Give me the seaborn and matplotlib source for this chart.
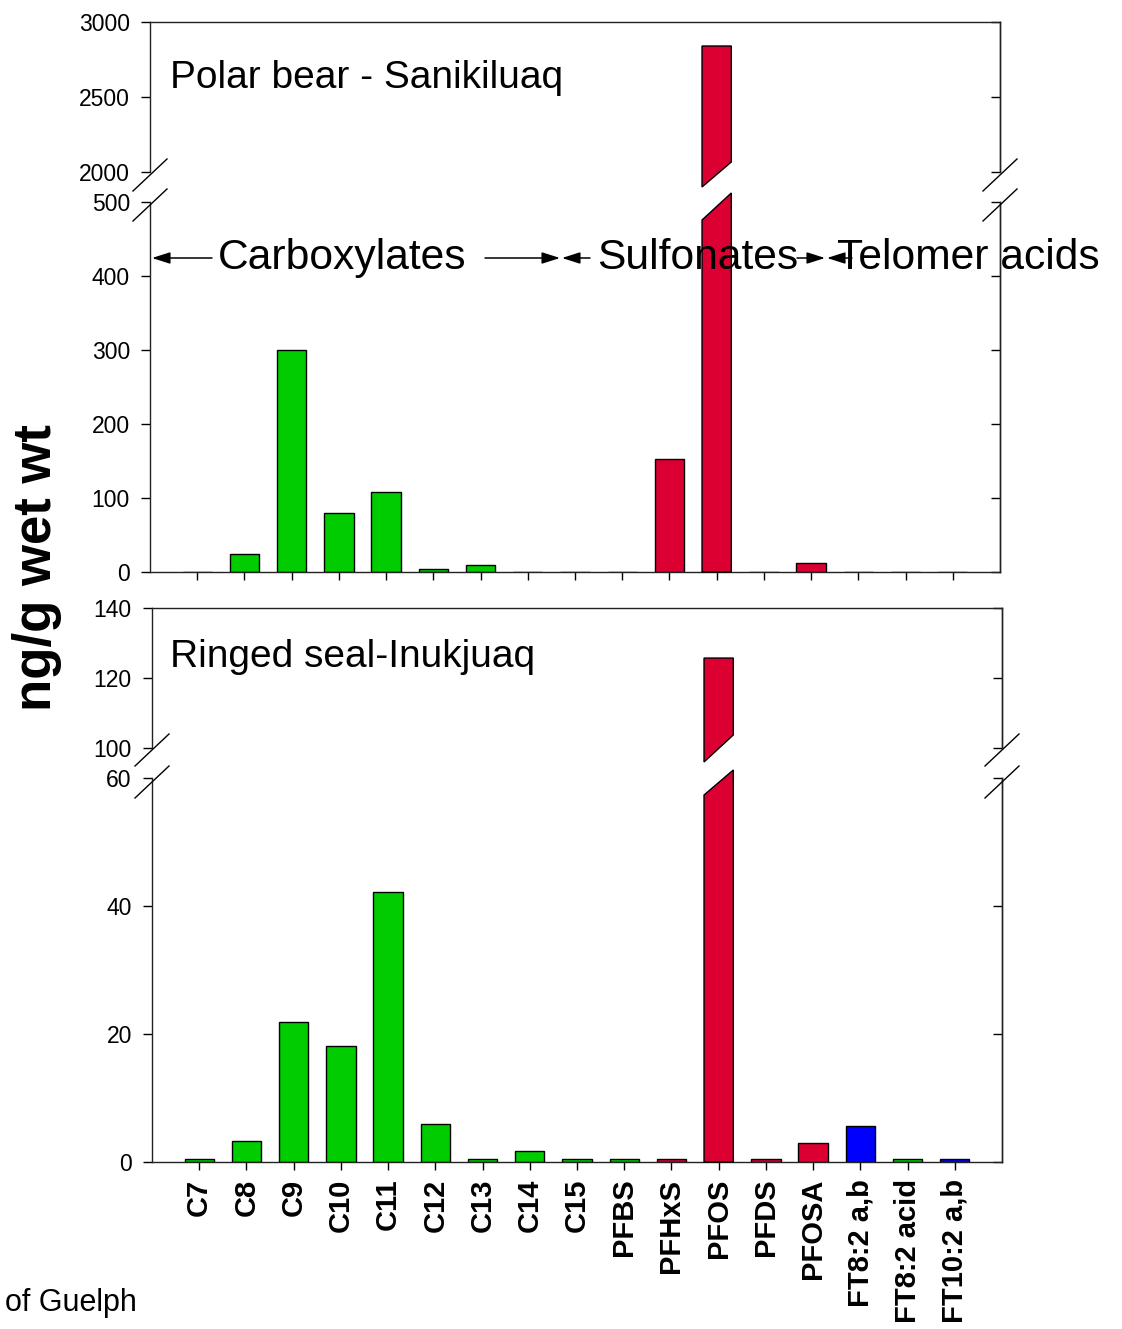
import numpy as np
import pandas as pd
import matplotlib
matplotlib.use("Agg")
import matplotlib.pyplot as plt
import seaborn as sns
from matplotlib.patches import Polygon, FancyArrowPatch
from matplotlib.lines import Line2D

# ---------------- data ----------------
compounds = ["C7", "C8", "C9", "C10", "C11", "C12", "C13", "C14", "C15",
             "PFBS", "PFHxS", "PFOS", "PFDS", "PFOSA",
             "FT8:2 a,b", "FT8:2 acid", "FT10:2 a,b"]
groups = ["carb"] * 10 + ["sulf"] * 4 + ["telo", "carb", "telo"]
bear_values = [0, 24, 300, 80, 108, 4, 10, 0, 0, 0, 153, 2840, 0, 12, 0, 0, 0]
seal_values = [0.5, 3.3, 21.9, 18.1, 42.2, 5.9, 0.5, 1.7, 0.5, 0.5, 0.5,
               125.7, 0.5, 3.0, 5.6, 0.5, 0.5]
palette = {"carb": "#00CC00", "sulf": "#DC0032", "telo": "#0000FF"}

bear_up_ticks = [2000, 2500, 3000]
bear_lo_ticks = [0, 100, 200, 300, 400, 500]
seal_up_ticks = [100, 120, 140]
seal_lo_ticks = [0, 20, 40, 60]

plt.rcParams["font.family"] = ["Liberation Sans", "DejaVu Sans"]

W, H = 1122, 1329
fig = plt.figure(figsize=(W / 100, H / 100), dpi=100)


def box(l, t, r, b):
    return [l / W, 1 - b / H, (r - l) / W, (b - t) / H]


def fx(x):
    return x / W


def fy(y):
    return 1 - y / H


def draw(ax, values, ylim, ticks, is_upper, show_labels):
    df = pd.DataFrame({"compound": compounds, "value": values, "group": groups})
    sns.barplot(data=df, x="compound", y="value", hue="group", palette=palette,
                order=compounds, dodge=False, width=0.62, saturation=1,
                edgecolor="black", linewidth=1.0, errorbar=None, legend=False, ax=ax)
    ax.set_xlim(-1, len(compounds))
    ax.set_ylim(*ylim)
    ax.set_xlabel("")
    ax.set_ylabel("")
    ax.set_yticks(ticks)
    ax.set_yticklabels([str(t) for t in ticks])
    ax.tick_params(axis="y", direction="out", length=6.5, width=1.0,
                   labelsize=16.5, pad=8.0, left=True, right=False)
    for s in ax.spines.values():
        s.set_linewidth(1.0)
        s.set_color("#222222")
    sec = ax.secondary_yaxis("right")
    sec.set_yticks(ticks)
    sec.tick_params(direction="in", length=6.5, width=1.0, labelright=False)
    sec.spines["right"].set_linewidth(1.0)
    sec.spines["right"].set_color("#222222")
    if is_upper:
        ax.spines["bottom"].set_visible(False)
        ax.tick_params(axis="x", bottom=False, labelbottom=False)
    else:
        ax.spines["top"].set_visible(False)
        ax.set_xticks(range(len(compounds)))
        ax.tick_params(axis="x", direction="out", length=6, width=1.0, pad=6)
        if show_labels:
            ax.set_xticklabels(compounds, rotation=90, fontsize=21, fontweight="bold")
        else:
            ax.tick_params(axis="x", labelbottom=False)


def cut_bar(ax, idx, upper, dl_px, dr_px):
    ylo, yhi = ax.get_ylim()
    hpx = ax.get_position().height * H
    u = (yhi - ylo) / hpx
    for p in ax.patches:
        c = p.get_x() + p.get_width() / 2
        if abs(c - idx) < 0.2 and p.get_height() > 0:
            x0, x1 = p.get_x(), p.get_x() + p.get_width()
            top = p.get_y() + p.get_height()
            if upper:
                verts = [(x0, top), (x1, top), (x1, ylo + dr_px * u), (x0, ylo - dl_px * u)]
            else:
                verts = [(x0, 0), (x1, 0), (x1, yhi + dr_px * u), (x0, yhi - dl_px * u)]
            poly = Polygon(verts, closed=True, facecolor=p.get_facecolor(),
                           edgecolor="black", linewidth=1.0, clip_on=False, zorder=3)
            p.set_visible(False)
            ax.add_patch(poly)
            break


def brk(xpx, ypx):
    fig.add_artist(Line2D([fx(xpx - 17), fx(xpx + 17)], [fy(ypx + 16), fy(ypx - 16)],
                          transform=fig.transFigure, color="black", lw=1.0))


pfos = compounds.index("PFOS")

ax_bu = fig.add_axes(box(150, 22, 1000, 172))
ax_bl = fig.add_axes(box(150, 202, 1000, 572))
ax_su = fig.add_axes(box(152, 608, 1002, 748))
ax_sl = fig.add_axes(box(152, 778, 1002, 1162))

draw(ax_bu, bear_values, (2000, 3000), bear_up_ticks, True, False)
draw(ax_bl, bear_values, (0, 500), bear_lo_ticks, False, False)
draw(ax_su, seal_values, (100, 140), seal_up_ticks, True, False)
draw(ax_sl, seal_values, (0, 60), seal_lo_ticks, False, True)

cut_bar(ax_bu, pfos, True, 15, 10)
cut_bar(ax_bl, pfos, False, 18, 9)
cut_bar(ax_su, pfos, True, 14, 13)
cut_bar(ax_sl, pfos, False, 17, 8)

for x in (150, 1000):
    brk(x, 175)
    brk(x, 205)
for x in (152, 1002):
    brk(x, 750)
    brk(x, 782)

# ---------------- texts ----------------
fig.text(fx(170), fy(88), "Polar bear - Sanikiluaq", fontsize=28, va="baseline", ha="left")
fig.text(fx(170), fy(667), "Ringed seal-Inukjuaq", fontsize=28, va="baseline", ha="left")
fig.text(fx(218), fy(269), "Carboxylates", fontsize=30.7, va="baseline", ha="left")
fig.text(fx(597), fy(269), "Sulfonates", fontsize=30.7, va="baseline", ha="left")
fig.text(fx(837), fy(269), "Telomer acids", fontsize=30.7, va="baseline", ha="left")
fig.text(fx(37), fy(568), "ng/g wet wt", fontsize=38, fontweight="bold",
         rotation=90, ha="center", va="center")
fig.text(fx(5), fy(1311), "of Guelph", fontsize=22, va="baseline", ha="left")


def arrow(x_from, x_to, y=258):
    a = FancyArrowPatch((fx(x_from), fy(y)), (fx(x_to), fy(y)),
                        transform=fig.transFigure,
                        arrowstyle="-|>,head_length=1.1,head_width=0.35",
                        mutation_scale=10, color="black", lw=1.1,
                        shrinkA=0, shrinkB=0)
    fig.add_artist(a)


arrow(212, 152)
arrow(485, 560)
arrow(590, 562)
arrow(797, 825)
arrow(852, 827)

fig.savefig("out.png", dpi=100)
